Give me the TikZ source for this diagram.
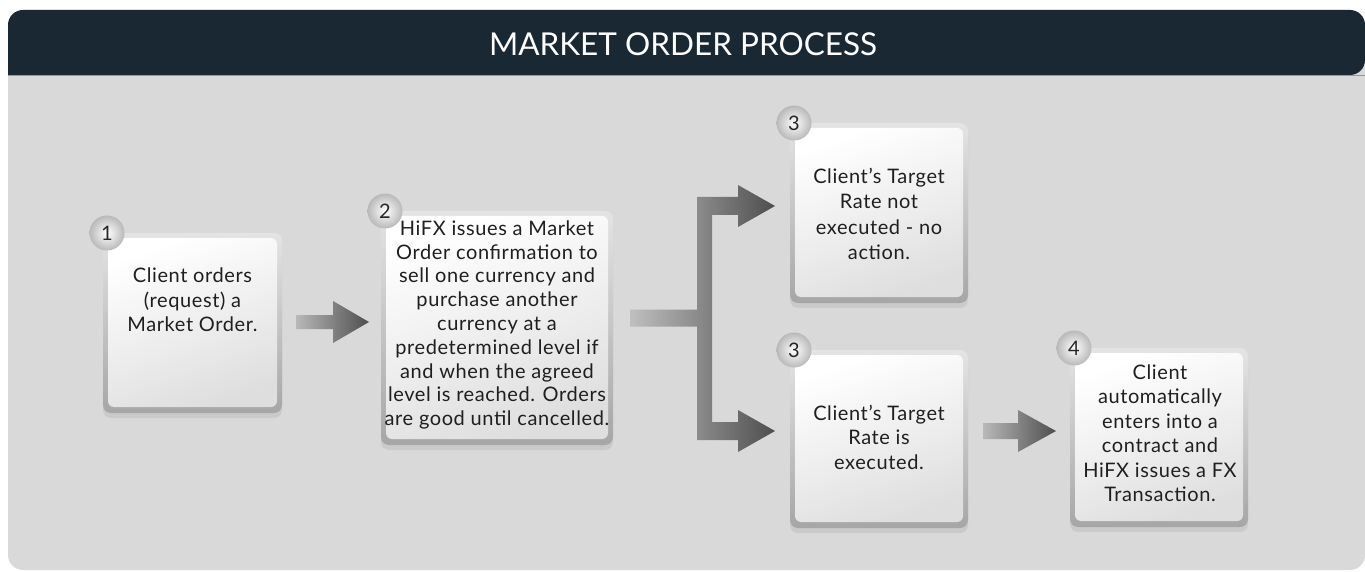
\documentclass[tikz,border=0pt]{standalone}
\usepackage{fontspec}
\setmainfont{Lato}[LetterSpace=3]
\newfontfamily\titlefont{Lato}
\usetikzlibrary{calc,shadows}
\definecolor{hdr}{HTML}{192833}
\definecolor{panel}{HTML}{D9D9D9}
\definecolor{hdrline}{HTML}{8C98A2}
\definecolor{arrlight}{HTML}{B8B8B8}
\definecolor{arrdark}{HTML}{4E4E4E}
\definecolor{frameL}{HTML}{E4E4E4}
\definecolor{frameD}{HTML}{A6A6A6}
\definecolor{innerD}{HTML}{DEDEDE}
\tikzset{
  stepframe/.style={rounded corners=8pt, top color=frameL, bottom color=frameD,
    drop shadow={shadow xshift=0pt, shadow yshift=-5pt, opacity=0.16},
    inner sep=0pt, outer sep=0pt},
  stepinner/.style={rounded corners=6pt, shading=axis, top color=white, bottom color=innerD, shading angle=20},
  badge/.style={circle, minimum size=35pt, inner sep=0pt, shading=radial, inner color=white, outer color=gray!55,
    font=\titlefont\fontsize{20}{20}\selectfont, text=black!85},
  steptext/.style={align=center, inner sep=0pt, font=\fontsize{20}{24.5}\selectfont, text=black!88},
  blockarrow/.style={left color=arrlight, right color=arrdark, draw=none},
}
\begin{document}
\begin{tikzpicture}[x=1pt,y=-1pt]
\useasboundingbox (0,0) rectangle (1365,572);
% panel
\fill[panel, rounded corners=15pt] (8,10) rectangle (1365,570);
\fill[hdr, rounded corners=15pt] (8,75) -- (8,10) -- (1365,10) -- (1365,75) [sharp corners] -- cycle;
\draw[hdrline, line width=1pt] (8,75.5) -- (1365,75.5);
\node[text=white, font=\titlefont\fontsize{31.5}{31.5}\selectfont] (title) at (683,44) {MARKET ORDER PROCESS};

% frames
\node[stepframe, minimum width=179pt, minimum height=180pt] (b1) at (192.5,323) {};
\node[stepframe, minimum width=232pt, minimum height=234pt] (b2) at (497,328) {};
\node[stepframe, minimum width=178pt, minimum height=180pt] (b3a) at (879,213) {};
\node[stepframe, minimum width=178pt, minimum height=178pt] (b3b) at (879,439) {};
\node[stepframe, minimum width=178pt, minimum height=179pt] (b4) at (1159,437.5) {};
\foreach \n in {b1,b2,b3a,b3b,b4}
  \shade[stepinner] ($(\n.north west)+(5,5)$) rectangle ($(\n.south east)+(-5,-6)$);

% badges
\node[badge] (n1) at ($(b1.north west)+(4,0)$) {1};
\node[badge] (n2) at ($(b2.north west)+(4,0)$) {2};
\node[badge] (n3a) at ($(b3a.north west)+(4,0)$) {3};
\node[badge] (n3b) at ($(b3b.north west)+(4,0)$) {3};
\node[badge] (n4) at ($(b4.north west)+(4,0)$) {4};

% texts
\node[steptext] (t1) at (192.5,300) {Client orders\\(request) a\\Market Order.};
\node[steptext, font=\fontsize{20}{23.8}\selectfont] (t2) at (497,325) {HiFX issues a Market\\Order confirmation to\\sell one currency and\\purchase another\\currency at a\\predetermined level if\\and when the agreed\\level is reached. Orders\\are good until cancelled.};
\node[steptext, font=\fontsize{20}{25.5}\selectfont] (t3a) at (879,214) {Client’s Target\\Rate not\\executed - no\\action.};
\node[steptext] (t3b) at (879,437) {Client’s Target\\Rate is\\executed.};
\node[steptext] (t4) at (1160,433) {Client\\automatically\\enters into a\\contract and\\HiFX issues a FX\\Transaction.};

% arrow 1 -> 2
\coordinate (a1s) at ($(b1.east)+(14,-1)$);
\coordinate (a1e) at ($(b2.west |- a1s)+(-12,0)$);
\shade[blockarrow] ($(a1s)+(0,-7)$) -- ($(a1e)+(-36,-7)$) -- ($(a1e)+(-36,-21)$) -- (a1e)
  -- ($(a1e)+(-36,21)$) -- ($(a1e)+(-36,7)$) -- ($(a1s)+(0,7)$) -- cycle;

% branch arrow 2 -> 3a, 3b
\coordinate (bs) at ($(b2.east)+(17,-10)$);
\coordinate (tA) at ($(b3a.west)+(-15,-7)$);
\coordinate (tB) at ($(b3b.west)+(-15,-8)$);
\shade[blockarrow, left color=arrlight!90!white]
  ($(bs)+(0,-8.5)$) -- ($(bs)+(67,-8.5)$) -- ($(tA)+(-78,-9)$) -- ($(tA)+(-37,-9)$) -- ($(tA)+(-37,-21)$)
  -- (tA) -- ($(tA)+(-37,21)$) -- ($(tA)+(-37,9)$) -- ($(tA)+(-63,9)$)
  -- ($(tB)+(-63,-9)$) -- ($(tB)+(-37,-9)$) -- ($(tB)+(-37,-21)$) -- (tB)
  -- ($(tB)+(-37,21)$) -- ($(tB)+(-37,9)$) -- ($(tB)+(-78,9)$) -- ($(bs)+(67,8.5)$) -- ($(bs)+(0,8.5)$) -- cycle;

% arrow 3b -> 4
\coordinate (a3s) at ($(b3b.east)+(15,-8)$);
\coordinate (a3e) at ($(b4.west |- a3s)+(-14,0)$);
\shade[blockarrow] ($(a3s)+(0,-8)$) -- ($(a3e)+(-38,-8)$) -- ($(a3e)+(-38,-21)$) -- (a3e)
  -- ($(a3e)+(-38,21)$) -- ($(a3e)+(-38,8)$) -- ($(a3s)+(0,8)$) -- cycle;
\end{tikzpicture}
\end{document}
